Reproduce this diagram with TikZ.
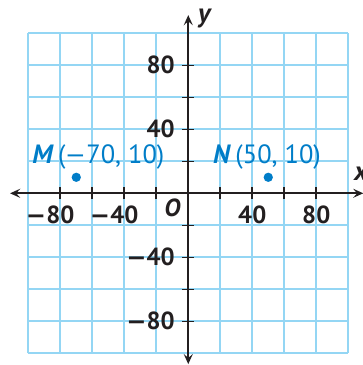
\documentclass[tikz,border=0pt]{standalone}
\usepackage{fontspec}
\setmainfont{PT Sans}
\usetikzlibrary{arrows.meta}
\definecolor{gridblue}{RGB}{148,214,244}
\definecolor{ptblue}{RGB}{0,125,200}
\definecolor{axisblack}{RGB}{35,31,32}
\tikzset{
  gridline/.style={draw=gridblue,line width=1.6pt},
  axisline/.style={draw=axisblack,line width=1.6pt,{Stealth[length=9pt,width=8pt,inset=3.5pt]}-{Stealth[length=9pt,width=8pt,inset=3.5pt]}},
  tickmark/.style={draw=axisblack,line width=1.4pt},
  numlabel/.style={font=\fontsize{22}{24}\selectfont\bfseries,text=axisblack,inner sep=0pt},
  axlabel/.style={font=\fontsize{24}{26}\selectfont\bfseries\itshape,text=axisblack,inner sep=0pt},
  ptlabel/.style={font=\fontsize{23.5}{26}\selectfont,text=ptblue,inner sep=0pt,anchor=west},
  ptdot/.style={fill=ptblue,draw=none},
}
\begin{document}
\begin{tikzpicture}
\useasboundingbox (-5.884,-5.366) rectangle (5.459,6.041);
% grid
\foreach \i in {-5,...,5} {
  \draw[gridline] (\i,-5) -- (\i,5);
  \draw[gridline] (-5,\i) -- (5,\i);
}
% axes
\coordinate (xl) at (-5.57,0);
\coordinate (xr) at (5.47,0);
\coordinate (yb) at (0,-5.34);
\coordinate (yt) at (0,5.57);
\draw[axisline] (xl) -- (xr);
\draw[axisline] (yb) -- (yt);
% ticks
\foreach \i in {-4,-3,-2,-1,1,2,3,4} {
  \draw[tickmark] (\i,-0.19) -- (\i,0.19);
  \draw[tickmark] (-0.19,\i) -- (0.19,\i);
}
% axis labels
\node[axlabel,anchor=west] (xlab) at (5.18,0.6) {x};
\node[axlabel,anchor=west] (ylab) at (0.3,5.45) {y};
\node[axlabel,font=\fontsize{22}{24}\selectfont\bfseries\itshape] (O) at (-0.5,-0.47) {O};
% x numbers
\node[numlabel] (xm80) at (-4,-0.68) {\llap{—}80};
\node[numlabel] (xm40) at (-2,-0.68) {\llap{—}40};
\node[numlabel] (xp40) at (2,-0.68) {40};
\node[numlabel] (xp80) at (4,-0.68) {80};
% y numbers
\node[numlabel,anchor=east] (yp80) at (-0.42,4) {80};
\node[numlabel,anchor=east] (yp40) at (-0.42,2) {40};
\node[numlabel,anchor=east] (ym40) at (-0.42,-2) {—40};
\node[numlabel,anchor=east] (ym80) at (-0.42,-4) {—80};
% points
\fill[ptdot] (-3.5,0.5) circle (0.145);
\fill[ptdot] (2.5,0.5) circle (0.145);
\node[ptlabel] (Mlab) at (-4.88,1.13) {\textbf{\textit{M}}\,(—70, 10)};
\node[ptlabel] (Nlab) at (0.77,1.13) {\textbf{\textit{N}}\,(50, 10)};
\end{tikzpicture}
\end{document}
